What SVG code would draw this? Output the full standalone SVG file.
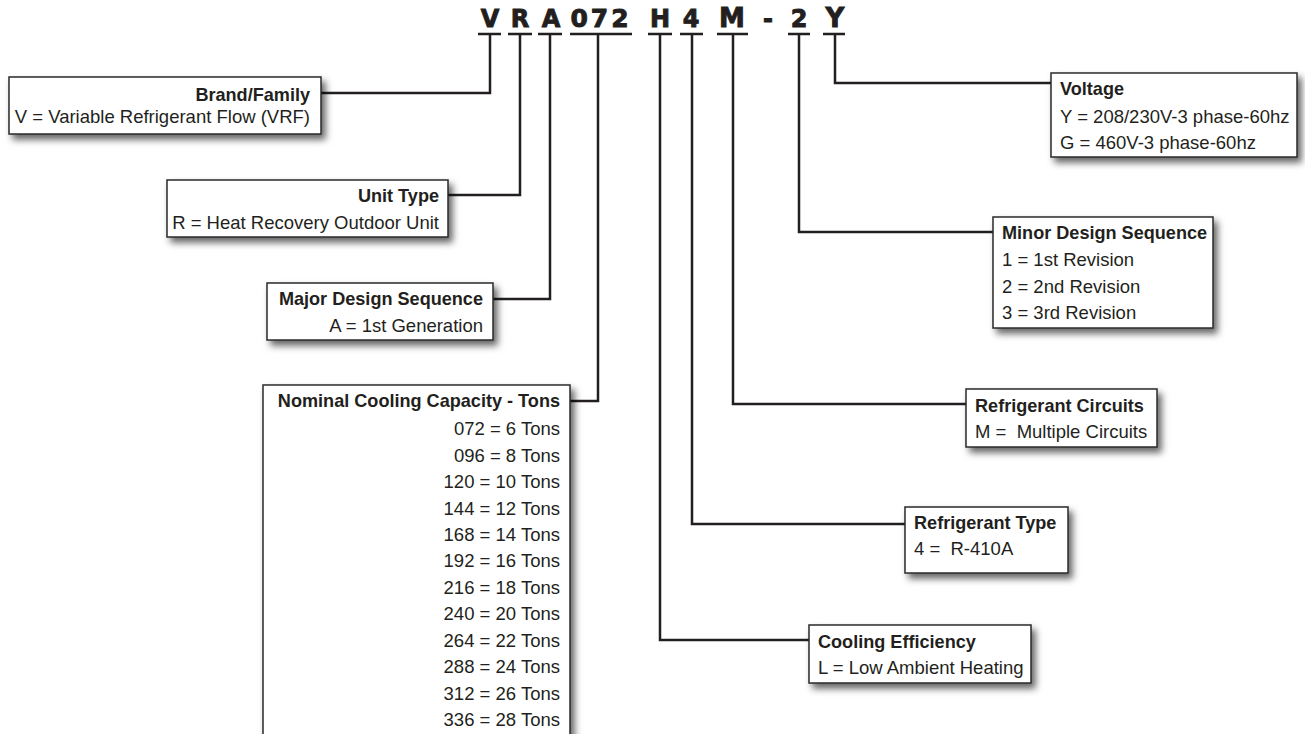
<svg xmlns="http://www.w3.org/2000/svg" width="1305" height="734" viewBox="0 0 1305 734">
<defs>
<filter id="sh" x="-10%" y="-10%" width="130%" height="140%">
<feDropShadow dx="4" dy="5" stdDeviation="3.5" flood-color="#000" flood-opacity="0.6"/>
</filter>
<style>
.box{fill:#fff;stroke:#2a2a2a;stroke-width:1.5;filter:url(#sh)}
.t{font-family:"Liberation Sans",Arial,sans-serif;font-size:18.5px;fill:#231f20}
.b{font-weight:bold;font-size:18.1px}
.r{text-anchor:end}
.code{font-family:"DejaVu Sans",sans-serif;font-weight:bold;font-size:24px;fill:#231f20;stroke:#231f20;stroke-width:0.9;text-anchor:middle}
.ul{stroke:#231f20;stroke-width:2.5;fill:none}
.con{stroke:#231f20;stroke-width:2.5;fill:none}
</style>
</defs>
<rect width="1305" height="734" fill="#fff"/>
<g id="code">
<text class="code" x="490" y="27">V</text>
<text class="code" x="520" y="27">R</text>
<text class="code" x="551" y="27">A</text>
<text class="code" x="601" y="27" style="font-size:25px;letter-spacing:3px">072</text>
<text class="code" x="660" y="27">H</text>
<text class="code" x="691" y="27">4</text>
<text class="code" x="732" y="27" style="font-size:26px">M</text>
<text class="code" x="768" y="27">-</text>
<text class="code" x="799" y="27">2</text>
<text class="code" x="835" y="27" style="font-size:26px">Y</text>
<path class="ul" d="M478 34H501M508 34H532M538 34H562M570 34H632M648 34H672M680 34H703M717 34H748M788 34H810M823 34H845"/>
</g>
<g id="connectors">
<polyline class="con" points="490,34 490,93 321,93"/>
<polyline class="con" points="520,34 520,195 448,195"/>
<polyline class="con" points="550,34 550,299 493,299"/>
<polyline class="con" points="598,34 598,401 570,401"/>
<polyline class="con" points="660,34 660,640 809,640"/>
<polyline class="con" points="692,34 692,524 905,524"/>
<polyline class="con" points="733,34 733,404 966,404"/>
<polyline class="con" points="799,34 799,232 993,232"/>
<polyline class="con" points="835,34 835,83 1051,83"/>
</g>
<g id="brand">
<rect class="box" x="9" y="77" width="312" height="57"/>
<text class="t b r" x="310" y="101">Brand/Family</text>
<text class="t r" x="310" y="123">V = Variable Refrigerant Flow (VRF)</text>
</g>
<g id="unit-type">
<rect class="box" x="167" y="180" width="281" height="57"/>
<text class="t b r" x="439" y="202">Unit Type</text>
<text class="t r" x="439" y="229">R = Heat Recovery Outdoor Unit</text>
</g>
<g id="major-design">
<rect class="box" x="267" y="283" width="226" height="57"/>
<text class="t b r" x="483" y="305">Major Design Sequence</text>
<text class="t r" x="483" y="332">A = 1st Generation</text>
</g>
<g id="capacity">
<rect class="box" x="263" y="385" width="307" height="370"/>
<text class="t b r" x="560" y="407">Nominal Cooling Capacity - Tons</text>
<text class="t r" x="560" y="435">072 = 6 Tons</text>
<text class="t r" x="560" y="461.5">096 = 8 Tons</text>
<text class="t r" x="560" y="488">120 = 10 Tons</text>
<text class="t r" x="560" y="514.5">144 = 12 Tons</text>
<text class="t r" x="560" y="541">168 = 14 Tons</text>
<text class="t r" x="560" y="567">192 = 16 Tons</text>
<text class="t r" x="560" y="593.5">216 = 18 Tons</text>
<text class="t r" x="560" y="620">240 = 20 Tons</text>
<text class="t r" x="560" y="646.5">264 = 22 Tons</text>
<text class="t r" x="560" y="673">288 = 24 Tons</text>
<text class="t r" x="560" y="699.5">312 = 26 Tons</text>
<text class="t r" x="560" y="726">336 = 28 Tons</text>
</g>
<g id="voltage">
<rect class="box" x="1051" y="73" width="246" height="84"/>
<text class="t b" x="1060" y="95">Voltage</text>
<text class="t" x="1060" y="123">Y = 208/230V-3 phase-60hz</text>
<text class="t" x="1060" y="149">G = 460V-3 phase-60hz</text>
</g>
<g id="minor-design">
<rect class="box" x="993" y="217" width="220" height="111"/>
<text class="t b" x="1002" y="239">Minor Design Sequence</text>
<text class="t" x="1002" y="266">1 = 1st Revision</text>
<text class="t" x="1002" y="293">2 = 2nd Revision</text>
<text class="t" x="1002" y="319">3 = 3rd Revision</text>
</g>
<g id="circuits">
<rect class="box" x="966" y="389" width="191" height="58"/>
<text class="t b" x="975" y="412">Refrigerant Circuits</text>
<text class="t" x="975" y="438" xml:space="preserve">M =  Multiple Circuits</text>
</g>
<g id="refrigerant-type">
<rect class="box" x="905" y="507" width="163" height="66"/>
<text class="t b" x="914" y="529">Refrigerant Type</text>
<text class="t" x="914" y="555" xml:space="preserve">4 =  R-410A</text>
</g>
<g id="efficiency">
<rect class="box" x="809" y="625" width="222" height="58"/>
<text class="t b" x="818" y="648">Cooling Efficiency</text>
<text class="t" x="818" y="674">L = Low Ambient Heating</text>
</g>
</svg>
